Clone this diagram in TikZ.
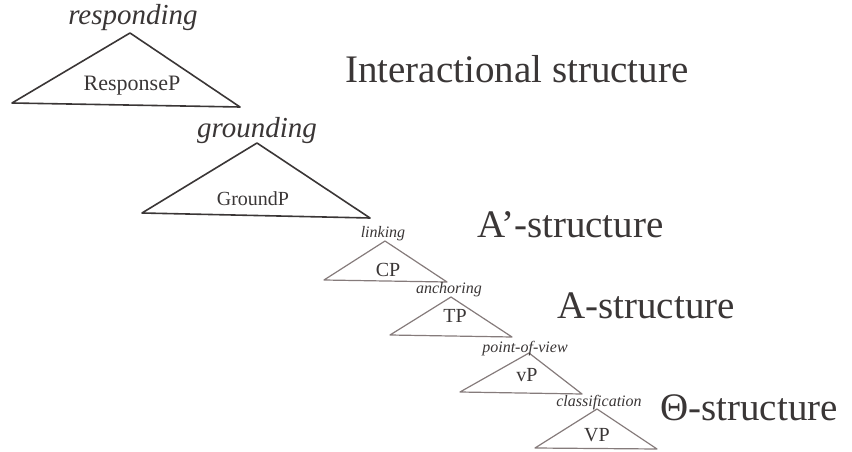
\documentclass[tikz,border=0pt]{standalone}
\usepackage{fontspec}
\setmainfont{Liberation Serif}
\definecolor{ink}{HTML}{3A3636}
\definecolor{thin}{HTML}{857B7B}

\begin{document}
\begin{tikzpicture}[x=1pt,y=-1pt]
\useasboundingbox (0,0) rectangle (852,452);
\tikzset{
  bigtri/.style={draw=ink, line width=1.6pt, line join=round},
  smalltri/.style={draw=thin, line width=1.2pt, line join=round},
  head/.style={inner sep=0pt, anchor=base, text=ink, font=\itshape},
  phrase/.style={inner sep=0pt, text=ink},
  level/.style={inner sep=0pt, anchor=base west, text=ink, font=\fontsize{39}{44}\selectfont}
}
% apexes of the triangles
\coordinate (resp) at (130,33);
\coordinate (grnd) at (257,143);
\coordinate (cp) at (385,241);
\coordinate (tp) at (451,297);
\coordinate (vp) at (529,353);
\coordinate (bigvp) at (597,409);

\draw[bigtri] (resp) -- (12,103) -- (240,107) -- cycle;
\draw[bigtri] (grnd) -- (142,213) -- (370,218) -- cycle;
\draw[smalltri] (cp) -- (324,280) -- (447,282) -- cycle;
\draw[smalltri] (tp) -- (390,335) -- (512,337) -- cycle;
\draw[smalltri] (vp) -- (460,392) -- (582,394) -- cycle;
\draw[smalltri] (bigvp) -- (535,448) -- (657,449) -- cycle;

% head labels
\node[head, font=\itshape\fontsize{29}{32}\selectfont] (respl) at (133,25) {responding};
\node[head, font=\itshape\fontsize{29}{32}\selectfont] (grndl) at (257,137) {grounding};
\node[head, font=\itshape\fontsize{16}{18}\selectfont] (cpl) at (383,237) {linking};
\node[head, font=\itshape\fontsize{16}{18}\selectfont] (tpl) at (449,293) {anchoring};
\node[head, font=\itshape\fontsize{16}{18}\selectfont] (vpl) at (525,352) {point-of-view};
\node[head, font=\itshape\fontsize{16}{18}\selectfont] (bigvpl) at (599,406) {classification};

% phrase labels
\node[phrase, font=\fontsize{22}{24}\selectfont] (respP) at (132,86) {ResponseP};
\node[phrase, font=\fontsize{20}{22}\selectfont] (grndP) at (253,199) {GroundP};
\node[phrase, font=\fontsize{20}{22}\selectfont] (cpP) at (388,270) {CP};
\node[phrase, font=\fontsize{20}{22}\selectfont] (tpP) at (455,316) {TP};
\node[phrase, font=\fontsize{20}{22}\selectfont] (vpP) at (527,375) {vP};
\node[phrase, font=\fontsize{20}{22}\selectfont] (bigvpP) at (597,435) {VP};

% levels
\node[level] (inter) at (345,82) {Interactional structure};
\node[level] (abar) at (477,237) {A’-structure};
\node[level] (astr) at (557,318) {A-structure};
\node[level] (theta) at (660,420) {Θ-structure};
\end{tikzpicture}
\end{document}
